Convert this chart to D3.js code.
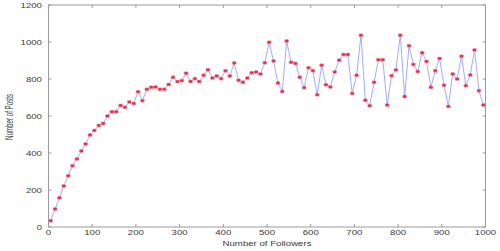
<!DOCTYPE html>
<html><head><meta charset="utf-8">
<script src="https://cdn.jsdelivr.net/npm/d3@7/dist/d3.min.js"></script>
<style>body{margin:0;background:#fff}svg{display:block}text{font-family:"Liberation Sans",Arial,sans-serif;fill:#3a3a3a}</style>
</head><body>
<script>
const followers = d3.range(100).map(i => 10 * i + 5);
const posts = [34,97,158,222,277,331,368,411,449,497,
522,549,560,600,623,623,657,647,676,668,
731,683,744,755,757,744,744,770,809,786,
791,831,787,802,786,820,850,805,816,802,
845,816,886,793,782,805,834,838,827,888,
998,897,778,733,1005,890,884,809,753,861,
845,715,874,769,757,838,902,932,932,722,
820,1036,685,656,782,904,904,659,818,849,
1036,705,980,879,840,942,895,755,845,911,
766,652,827,800,923,764,822,957,737,659];
const xTicks = [0,100,200,300,400,500,600,700,800,900,1000];
const yTicks = [0,200,400,600,800,1000,1200];
const xLabel = "Number of Followers";
const yLabel = "Number of Posts";

const W = 500, H = 251;
const m = {l:48.5, r:14.5, t:5, b:24};
const svg = d3.select("body").append("svg").attr("width", W).attr("height", H);
const x = d3.scaleLinear().domain([0,1000]).range([m.l, W - m.r]);
const y = d3.scaleLinear().domain([0,1200]).range([H - m.b, m.t]);

const axisCol = "#9a9a9a";
svg.append("rect").attr("x", x(0)).attr("y", y(1200)).attr("width", x(1000)-x(0)).attr("height", y(0)-y(1200))
  .attr("fill","none").attr("stroke",axisCol).attr("stroke-width",1);

const tl = 3;
const g = svg.append("g").attr("stroke", axisCol).attr("stroke-width",1);
xTicks.forEach(t => {
  g.append("line").attr("x1",x(t)).attr("x2",x(t)).attr("y1",y(0)).attr("y2",y(0)-tl);
  g.append("line").attr("x1",x(t)).attr("x2",x(t)).attr("y1",y(1200)).attr("y2",y(1200)+tl);
});
yTicks.forEach(t => {
  g.append("line").attr("x1",x(0)).attr("x2",x(0)+tl).attr("y1",y(t)).attr("y2",y(t));
  g.append("line").attr("x1",x(1000)).attr("x2",x(1000)-tl).attr("y1",y(t)).attr("y2",y(t));
});

const fs = 7, sx = 1.38;
xTicks.forEach(t => {
  svg.append("text").attr("transform",`translate(${x(t)},${y(0)+8.3}) scale(${sx},1)`)
    .attr("text-anchor","middle").attr("font-size",fs).text(t);
});
yTicks.forEach(t => {
  svg.append("text").attr("transform",`translate(${x(0)-6.5},${y(t)+2.8}) scale(${sx},1)`)
    .attr("text-anchor","end").attr("font-size",fs).text(t);
});
svg.append("text").attr("transform",`translate(${x(0)+ (x(1000)-x(0))/2},${H-5}) scale(${sx},1)`)
  .attr("text-anchor","middle").attr("font-size",fs).text(xLabel);
svg.append("text").attr("transform",`translate(13,117) rotate(-90) scale(0.62,1)`)
  .attr("text-anchor","middle").attr("font-size",10).text(yLabel);

const pts = followers.map((f,i) => [f, posts[i]]);
svg.append("path").datum(pts)
  .attr("d", d3.line().x(d => x(d[0])).y(d => y(d[1])))
  .attr("fill","none").attr("stroke","#8f9dff").attr("stroke-width",1).attr("opacity",0.85);

svg.append("g").selectAll("rect").data(pts).join("rect")
  .attr("x", d => x(d[0]) - 2).attr("y", d => y(d[1]) - 1.5)
  .attr("width", 4).attr("height", 3).attr("rx", 1.1)
  .attr("fill", "#e5304a").attr("stroke","#f2909c").attr("stroke-width",0.5);
</script>
</body></html>
